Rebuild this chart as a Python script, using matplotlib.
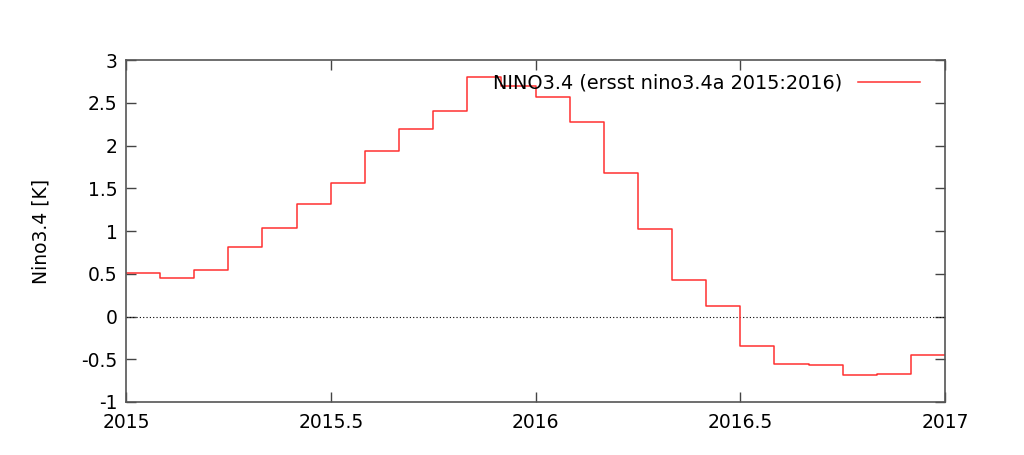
import numpy as np
from matplotlib import pyplot as plt

start_year = 2015
nino34 = [0.51, 0.45, 0.54, 0.81, 1.04, 1.32, 1.56, 1.94, 2.19, 2.40, 2.80, 2.70,
          2.57, 2.28, 1.68, 1.02, 0.43, 0.12, -0.34, -0.55, -0.57, -0.69, -0.67, -0.45]
label = 'NINO3.4 (ersst nino3.4a 2015:2016)'
xticks = [2015, 2015.5, 2016, 2016.5, 2017]
xticklabels = ['2015', '2015.5', '2016', '2016.5', '2017']
yticks = [-1, -0.5, 0, 0.5, 1, 1.5, 2, 2.5, 3]
yticklabels = ['-1', '-0.5', '0', '0.5', '1', '1.5', '2', '2.5', '3']

# monthly steps, repeat last value so the final month gets drawn
x = start_year + np.arange(len(nino34) + 1) / 12.0
y = nino34 + [nino34[-1]]

fig = plt.figure(figsize=(10.24, 4.55), dpi=100)
ax = fig.add_axes([0.123, 0.1165, 0.800, 0.7515])

ax.axhline(0, color='black', lw=0.8, ls=(0, (1, 2)))
ax.plot(x, y, drawstyle='steps-post', color='#ff3030', lw=1.1, label=label)

ax.set_xlim(2015, 2017)
ax.set_ylim(-1, 3)
ax.set_xticks(xticks)
ax.set_xticklabels(xticklabels)
ax.set_yticks(yticks)
ax.set_yticklabels(yticklabels)
ax.tick_params(direction='in', top=True, right=True, length=7, width=1,
               color='#444444', labelsize=13.5, pad=6)
ax.tick_params(axis='x', pad=8)
for s in ax.spines.values():
    s.set_color('#555555')
    s.set_linewidth(1.2)
ax.set_ylabel('Nino3.4 [K]', fontsize=13.5, labelpad=22)

ax.legend(loc='upper right', frameon=False, markerfirst=False, fontsize=13.9,
          handlelength=3.2, borderaxespad=0.2, bbox_to_anchor=(0.983, 0.995))

fig.savefig('out.png', dpi=100)
